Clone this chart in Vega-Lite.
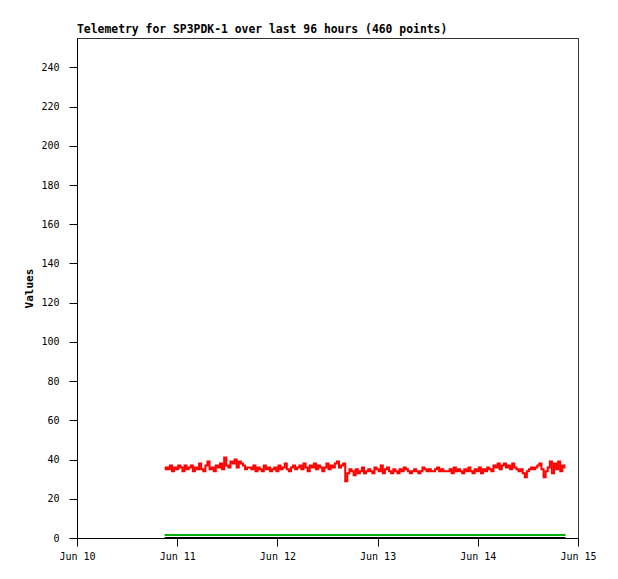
{
"$schema": "https://vega.github.io/schema/vega-lite/v6.json",
"width": 501, "height": 500,
"autosize": {"type": "none"},
"padding": {"left": 77, "top": 38, "right": 40, "bottom": 41},
"background": "white",
"title": {"text": "Telemetry for SP3PDK-1 over last 96 hours (460 points)", "anchor": "start", "frame": "group", "font": "DejaVu Sans Mono", "fontSize": 11.4, "fontWeight": "bold", "color": "black", "offset": 3},
"config": {
  "view": {"stroke": "#333333", "strokeWidth": 1},
  "axis": {"grid": false, "domainColor": "black", "tickColor": "black", "labelColor": "black", "labelFont": "DejaVu Sans Mono", "labelFontSize": 10, "titleFont": "DejaVu Sans Mono", "titleFontSize": 11, "titleFontWeight": "bold", "titleColor": "black", "labelOverlap": false, "labelFlush": false}
},
"data": {"values": [
{"t":"2024-06-10T21:00:00Z","r":35,"g":1.5,"k":0},{"t":"2024-06-10T21:30:00Z","r":36,"g":1.5,"k":0},{"t":"2024-06-10T22:00:00Z","r":35,"g":1.5,"k":0},{"t":"2024-06-10T22:30:00Z","r":37,"g":1.5,"k":0},{"t":"2024-06-10T23:00:00Z","r":34,"g":1.5,"k":0},{"t":"2024-06-10T23:30:00Z","r":36,"g":1.5,"k":0},
{"t":"2024-06-11T00:00:00Z","r":35,"g":1.5,"k":0},{"t":"2024-06-11T00:30:00Z","r":37,"g":1.5,"k":0},{"t":"2024-06-11T01:00:00Z","r":36,"g":1.5,"k":0},{"t":"2024-06-11T01:30:00Z","r":34,"g":1.5,"k":0},{"t":"2024-06-11T02:00:00Z","r":37,"g":1.5,"k":0},{"t":"2024-06-11T02:30:00Z","r":35,"g":1.5,"k":0},{"t":"2024-06-11T03:00:00Z","r":36,"g":1.5,"k":0},{"t":"2024-06-11T03:30:00Z","r":37,"g":1.5,"k":0},{"t":"2024-06-11T04:00:00Z","r":34,"g":1.5,"k":0},{"t":"2024-06-11T04:30:00Z","r":36,"g":1.5,"k":0},{"t":"2024-06-11T05:00:00Z","r":35,"g":1.5,"k":0},
{"t":"2024-06-11T05:30:00Z","r":38,"g":1.5,"k":0},{"t":"2024-06-11T06:00:00Z","r":35,"g":1.5,"k":0},{"t":"2024-06-11T06:30:00Z","r":34,"g":1.5,"k":0},{"t":"2024-06-11T07:00:00Z","r":37,"g":1.5,"k":0},{"t":"2024-06-11T07:30:00Z","r":39,"g":1.5,"k":0},{"t":"2024-06-11T08:00:00Z","r":35,"g":1.5,"k":0},{"t":"2024-06-11T08:30:00Z","r":36,"g":1.5,"k":0},{"t":"2024-06-11T09:00:00Z","r":34,"g":1.5,"k":0},{"t":"2024-06-11T09:30:00Z","r":37,"g":1.5,"k":0},{"t":"2024-06-11T10:00:00Z","r":36,"g":1.5,"k":0},{"t":"2024-06-11T10:30:00Z","r":38,"g":1.5,"k":0},{"t":"2024-06-11T11:00:00Z","r":35,"g":1.5,"k":0},
{"t":"2024-06-11T11:30:00Z","r":41,"g":1.5,"k":0},{"t":"2024-06-11T12:00:00Z","r":37,"g":1.5,"k":0},{"t":"2024-06-11T12:30:00Z","r":36,"g":1.5,"k":0},{"t":"2024-06-11T13:00:00Z","r":39,"g":1.5,"k":0},{"t":"2024-06-11T13:30:00Z","r":38,"g":1.5,"k":0},{"t":"2024-06-11T14:00:00Z","r":40,"g":1.5,"k":0},{"t":"2024-06-11T14:30:00Z","r":36,"g":1.5,"k":0},{"t":"2024-06-11T15:00:00Z","r":39,"g":1.5,"k":0},{"t":"2024-06-11T15:30:00Z","r":38,"g":1.5,"k":0},{"t":"2024-06-11T16:00:00Z","r":37,"g":1.5,"k":0},{"t":"2024-06-11T16:30:00Z","r":35,"g":1.5,"k":0},{"t":"2024-06-11T17:00:00Z","r":36,"g":1.5,"k":0},
{"t":"2024-06-11T17:30:00Z","r":36,"g":1.5,"k":0},{"t":"2024-06-11T18:00:00Z","r":35,"g":1.5,"k":0},{"t":"2024-06-11T18:30:00Z","r":37,"g":1.5,"k":0},{"t":"2024-06-11T19:00:00Z","r":34,"g":1.5,"k":0},{"t":"2024-06-11T19:30:00Z","r":36,"g":1.5,"k":0},{"t":"2024-06-11T20:00:00Z","r":35,"g":1.5,"k":0},{"t":"2024-06-11T20:30:00Z","r":34,"g":1.5,"k":0},{"t":"2024-06-11T21:00:00Z","r":37,"g":1.5,"k":0},{"t":"2024-06-11T21:30:00Z","r":35,"g":1.5,"k":0},{"t":"2024-06-11T22:00:00Z","r":36,"g":1.5,"k":0},{"t":"2024-06-11T22:30:00Z","r":34,"g":1.5,"k":0},{"t":"2024-06-11T23:00:00Z","r":35,"g":1.5,"k":0},{"t":"2024-06-11T23:30:00Z","r":36,"g":1.5,"k":0},
{"t":"2024-06-12T00:00:00Z","r":34,"g":1.5,"k":0},{"t":"2024-06-12T00:30:00Z","r":37,"g":1.5,"k":0},{"t":"2024-06-12T01:00:00Z","r":35,"g":1.5,"k":0},{"t":"2024-06-12T01:30:00Z","r":36,"g":1.5,"k":0},{"t":"2024-06-12T02:00:00Z","r":38,"g":1.5,"k":0},{"t":"2024-06-12T02:30:00Z","r":35,"g":1.5,"k":0},{"t":"2024-06-12T03:00:00Z","r":34,"g":1.5,"k":0},{"t":"2024-06-12T03:30:00Z","r":36,"g":1.5,"k":0},{"t":"2024-06-12T04:00:00Z","r":37,"g":1.5,"k":0},{"t":"2024-06-12T04:30:00Z","r":35,"g":1.5,"k":0},{"t":"2024-06-12T05:00:00Z","r":36,"g":1.5,"k":0},
{"t":"2024-06-12T05:30:00Z","r":37,"g":1.5,"k":0},{"t":"2024-06-12T06:00:00Z","r":35,"g":1.5,"k":0},{"t":"2024-06-12T06:30:00Z","r":38,"g":1.5,"k":0},{"t":"2024-06-12T07:00:00Z","r":36,"g":1.5,"k":0},{"t":"2024-06-12T07:30:00Z","r":34,"g":1.5,"k":0},{"t":"2024-06-12T08:00:00Z","r":37,"g":1.5,"k":0},{"t":"2024-06-12T08:30:00Z","r":36,"g":1.5,"k":0},{"t":"2024-06-12T09:00:00Z","r":38,"g":1.5,"k":0},{"t":"2024-06-12T09:30:00Z","r":35,"g":1.5,"k":0},{"t":"2024-06-12T10:00:00Z","r":37,"g":1.5,"k":0},{"t":"2024-06-12T10:30:00Z","r":36,"g":1.5,"k":0},{"t":"2024-06-12T11:00:00Z","r":34,"g":1.5,"k":0},
{"t":"2024-06-12T11:30:00Z","r":36,"g":1.5,"k":0},{"t":"2024-06-12T12:00:00Z","r":38,"g":1.5,"k":0},{"t":"2024-06-12T12:30:00Z","r":35,"g":1.5,"k":0},{"t":"2024-06-12T13:00:00Z","r":37,"g":1.5,"k":0},{"t":"2024-06-12T13:30:00Z","r":36,"g":1.5,"k":0},{"t":"2024-06-12T14:00:00Z","r":38,"g":1.5,"k":0},{"t":"2024-06-12T14:30:00Z","r":39,"g":1.5,"k":0},{"t":"2024-06-12T15:00:00Z","r":36,"g":1.5,"k":0},{"t":"2024-06-12T15:30:00Z","r":37,"g":1.5,"k":0},{"t":"2024-06-12T16:00:00Z","r":38,"g":1.5,"k":0},
{"t":"2024-06-12T16:30:00Z","r":29,"g":1.5,"k":0},
{"t":"2024-06-12T17:00:00Z","r":33,"g":1.5,"k":0},{"t":"2024-06-12T17:30:00Z","r":35,"g":1.5,"k":0},{"t":"2024-06-12T18:00:00Z","r":34,"g":1.5,"k":0},{"t":"2024-06-12T18:30:00Z","r":32,"g":1.5,"k":0},{"t":"2024-06-12T19:00:00Z","r":35,"g":1.5,"k":0},{"t":"2024-06-12T19:30:00Z","r":33,"g":1.5,"k":0},{"t":"2024-06-12T20:00:00Z","r":34,"g":1.5,"k":0},{"t":"2024-06-12T20:30:00Z","r":36,"g":1.5,"k":0},{"t":"2024-06-12T21:00:00Z","r":33,"g":1.5,"k":0},{"t":"2024-06-12T21:30:00Z","r":34,"g":1.5,"k":0},{"t":"2024-06-12T22:00:00Z","r":35,"g":1.5,"k":0},
{"t":"2024-06-12T22:30:00Z","r":34,"g":1.5,"k":0},{"t":"2024-06-12T23:00:00Z","r":33,"g":1.5,"k":0},{"t":"2024-06-12T23:30:00Z","r":36,"g":1.5,"k":0},
{"t":"2024-06-13T00:00:00Z","r":35,"g":1.5,"k":0},{"t":"2024-06-13T00:30:00Z","r":34,"g":1.5,"k":0},{"t":"2024-06-13T01:00:00Z","r":37,"g":1.5,"k":0},{"t":"2024-06-13T01:30:00Z","r":33,"g":1.5,"k":0},{"t":"2024-06-13T02:00:00Z","r":35,"g":1.5,"k":0},{"t":"2024-06-13T02:30:00Z","r":36,"g":1.5,"k":0},{"t":"2024-06-13T03:00:00Z","r":34,"g":1.5,"k":0},{"t":"2024-06-13T03:30:00Z","r":33,"g":1.5,"k":0},{"t":"2024-06-13T04:00:00Z","r":35,"g":1.5,"k":0},
{"t":"2024-06-13T04:30:00Z","r":34,"g":1.5,"k":0},{"t":"2024-06-13T05:00:00Z","r":33,"g":1.5,"k":0},{"t":"2024-06-13T05:30:00Z","r":35,"g":1.5,"k":0},{"t":"2024-06-13T06:00:00Z","r":34,"g":1.5,"k":0},{"t":"2024-06-13T06:30:00Z","r":36,"g":1.5,"k":0},{"t":"2024-06-13T07:00:00Z","r":35,"g":1.5,"k":0},{"t":"2024-06-13T07:30:00Z","r":34,"g":1.5,"k":0},{"t":"2024-06-13T08:00:00Z","r":33,"g":1.5,"k":0},{"t":"2024-06-13T08:30:00Z","r":34,"g":1.5,"k":0},{"t":"2024-06-13T09:00:00Z","r":35,"g":1.5,"k":0},{"t":"2024-06-13T09:30:00Z","r":34,"g":1.5,"k":0},{"t":"2024-06-13T10:00:00Z","r":33,"g":1.5,"k":0},
{"t":"2024-06-13T10:30:00Z","r":34,"g":1.5,"k":0},{"t":"2024-06-13T11:00:00Z","r":36,"g":1.5,"k":0},{"t":"2024-06-13T11:30:00Z","r":35,"g":1.5,"k":0},{"t":"2024-06-13T12:00:00Z","r":34,"g":1.5,"k":0},{"t":"2024-06-13T12:30:00Z","r":35,"g":1.5,"k":0},{"t":"2024-06-13T13:00:00Z","r":34,"g":1.5,"k":0},{"t":"2024-06-13T13:30:00Z","r":34,"g":1.5,"k":0},{"t":"2024-06-13T14:00:00Z","r":35,"g":1.5,"k":0},{"t":"2024-06-13T14:30:00Z","r":36,"g":1.5,"k":0},{"t":"2024-06-13T15:00:00Z","r":34,"g":1.5,"k":0},{"t":"2024-06-13T15:30:00Z","r":35,"g":1.5,"k":0},{"t":"2024-06-13T16:00:00Z","r":34,"g":1.5,"k":0},
{"t":"2024-06-13T16:30:00Z","r":34,"g":1.5,"k":0},{"t":"2024-06-13T17:00:00Z","r":34,"g":1.5,"k":0},{"t":"2024-06-13T17:30:00Z","r":35,"g":1.5,"k":0},{"t":"2024-06-13T18:00:00Z","r":33,"g":1.5,"k":0},{"t":"2024-06-13T18:30:00Z","r":36,"g":1.5,"k":0},{"t":"2024-06-13T19:00:00Z","r":34,"g":1.5,"k":0},{"t":"2024-06-13T19:30:00Z","r":35,"g":1.5,"k":0},{"t":"2024-06-13T20:00:00Z","r":34,"g":1.5,"k":0},{"t":"2024-06-13T20:30:00Z","r":33,"g":1.5,"k":0},{"t":"2024-06-13T21:00:00Z","r":35,"g":1.5,"k":0},{"t":"2024-06-13T21:30:00Z","r":34,"g":1.5,"k":0},{"t":"2024-06-13T22:00:00Z","r":36,"g":1.5,"k":0},
{"t":"2024-06-13T22:30:00Z","r":34,"g":1.5,"k":0},{"t":"2024-06-13T23:00:00Z","r":33,"g":1.5,"k":0},{"t":"2024-06-13T23:30:00Z","r":35,"g":1.5,"k":0},
{"t":"2024-06-14T00:00:00Z","r":34,"g":1.5,"k":0},{"t":"2024-06-14T00:30:00Z","r":36,"g":1.5,"k":0},{"t":"2024-06-14T01:00:00Z","r":33,"g":1.5,"k":0},{"t":"2024-06-14T01:30:00Z","r":35,"g":1.5,"k":0},{"t":"2024-06-14T02:00:00Z","r":34,"g":1.5,"k":0},{"t":"2024-06-14T02:30:00Z","r":36,"g":1.5,"k":0},{"t":"2024-06-14T03:00:00Z","r":35,"g":1.5,"k":0},{"t":"2024-06-14T03:30:00Z","r":34,"g":1.5,"k":0},{"t":"2024-06-14T04:00:00Z","r":37,"g":1.5,"k":0},
{"t":"2024-06-14T04:30:00Z","r":36,"g":1.5,"k":0},{"t":"2024-06-14T05:00:00Z","r":38,"g":1.5,"k":0},{"t":"2024-06-14T05:30:00Z","r":35,"g":1.5,"k":0},{"t":"2024-06-14T06:00:00Z","r":37,"g":1.5,"k":0},{"t":"2024-06-14T06:30:00Z","r":38,"g":1.5,"k":0},{"t":"2024-06-14T07:00:00Z","r":36,"g":1.5,"k":0},{"t":"2024-06-14T07:30:00Z","r":37,"g":1.5,"k":0},{"t":"2024-06-14T08:00:00Z","r":35,"g":1.5,"k":0},{"t":"2024-06-14T08:30:00Z","r":38,"g":1.5,"k":0},{"t":"2024-06-14T09:00:00Z","r":36,"g":1.5,"k":0},{"t":"2024-06-14T09:30:00Z","r":35,"g":1.5,"k":0},{"t":"2024-06-14T10:00:00Z","r":34,"g":1.5,"k":0},
{"t":"2024-06-14T10:30:00Z","r":35,"g":1.5,"k":0},{"t":"2024-06-14T11:00:00Z","r":33,"g":1.5,"k":0},{"t":"2024-06-14T11:30:00Z","r":31,"g":1.5,"k":0},{"t":"2024-06-14T12:00:00Z","r":34,"g":1.5,"k":0},{"t":"2024-06-14T12:30:00Z","r":35,"g":1.5,"k":0},{"t":"2024-06-14T13:00:00Z","r":36,"g":1.5,"k":0},{"t":"2024-06-14T13:30:00Z","r":35,"g":1.5,"k":0},{"t":"2024-06-14T14:00:00Z","r":36,"g":1.5,"k":0},{"t":"2024-06-14T14:30:00Z","r":37,"g":1.5,"k":0},{"t":"2024-06-14T15:00:00Z","r":38,"g":1.5,"k":0},
{"t":"2024-06-14T15:30:00Z","r":35,"g":1.5,"k":0},{"t":"2024-06-14T16:00:00Z","r":31,"g":1.5,"k":0},{"t":"2024-06-14T16:30:00Z","r":34,"g":1.5,"k":0},{"t":"2024-06-14T17:00:00Z","r":36,"g":1.5,"k":0},{"t":"2024-06-14T17:30:00Z","r":39,"g":1.5,"k":0},{"t":"2024-06-14T18:00:00Z","r":33,"g":1.5,"k":0},{"t":"2024-06-14T18:30:00Z","r":38,"g":1.5,"k":0},{"t":"2024-06-14T19:00:00Z","r":35,"g":1.5,"k":0},{"t":"2024-06-14T19:30:00Z","r":39,"g":1.5,"k":0},{"t":"2024-06-14T20:00:00Z","r":34,"g":1.5,"k":0},{"t":"2024-06-14T20:30:00Z","r":37,"g":1.5,"k":0},{"t":"2024-06-14T21:00:00Z","r":36,"g":1.5,"k":0}
]},
"transform": [{"fold": ["k", "g", "r"], "as": ["s", "v"]}],
"mark": {"type": "line", "strokeWidth": 2, "clip": false, "interpolate": "step"},
"encoding": {
  "x": {"field": "t", "type": "temporal", "title": null,
    "scale": {"type": "utc", "domain": [{"year": 2024, "month": 6, "date": 10, "utc": true}, {"year": 2024, "month": 6, "date": 15, "utc": true}]},
    "axis": {"labelExpr": "utcFormat(datum.value, '%b %d')", "tickSize": 8, "labelPadding": 5,
      "values": [{"year": 2024, "month": 6, "date": 10, "utc": true}, {"year": 2024, "month": 6, "date": 11, "utc": true}, {"year": 2024, "month": 6, "date": 12, "utc": true}, {"year": 2024, "month": 6, "date": 13, "utc": true}, {"year": 2024, "month": 6, "date": 14, "utc": true}, {"year": 2024, "month": 6, "date": 15, "utc": true}]}},
  "y": {"field": "v", "type": "quantitative", "title": "Values",
    "scale": {"domain": [0, 255], "nice": false, "zero": true},
    "axis": {"values": [0, 20, 40, 60, 80, 100, 120, 140, 160, 180, 200, 220, 240], "tickSize": 8, "labelPadding": 10, "titlePadding": 6}},
  "color": {"field": "s", "type": "nominal", "legend": null, "scale": {"domain": ["k", "g", "r"], "range": ["#000000", "#00b000", "#ff0000"]}},
  "order": {"field": "t", "type": "temporal"}
}
}
